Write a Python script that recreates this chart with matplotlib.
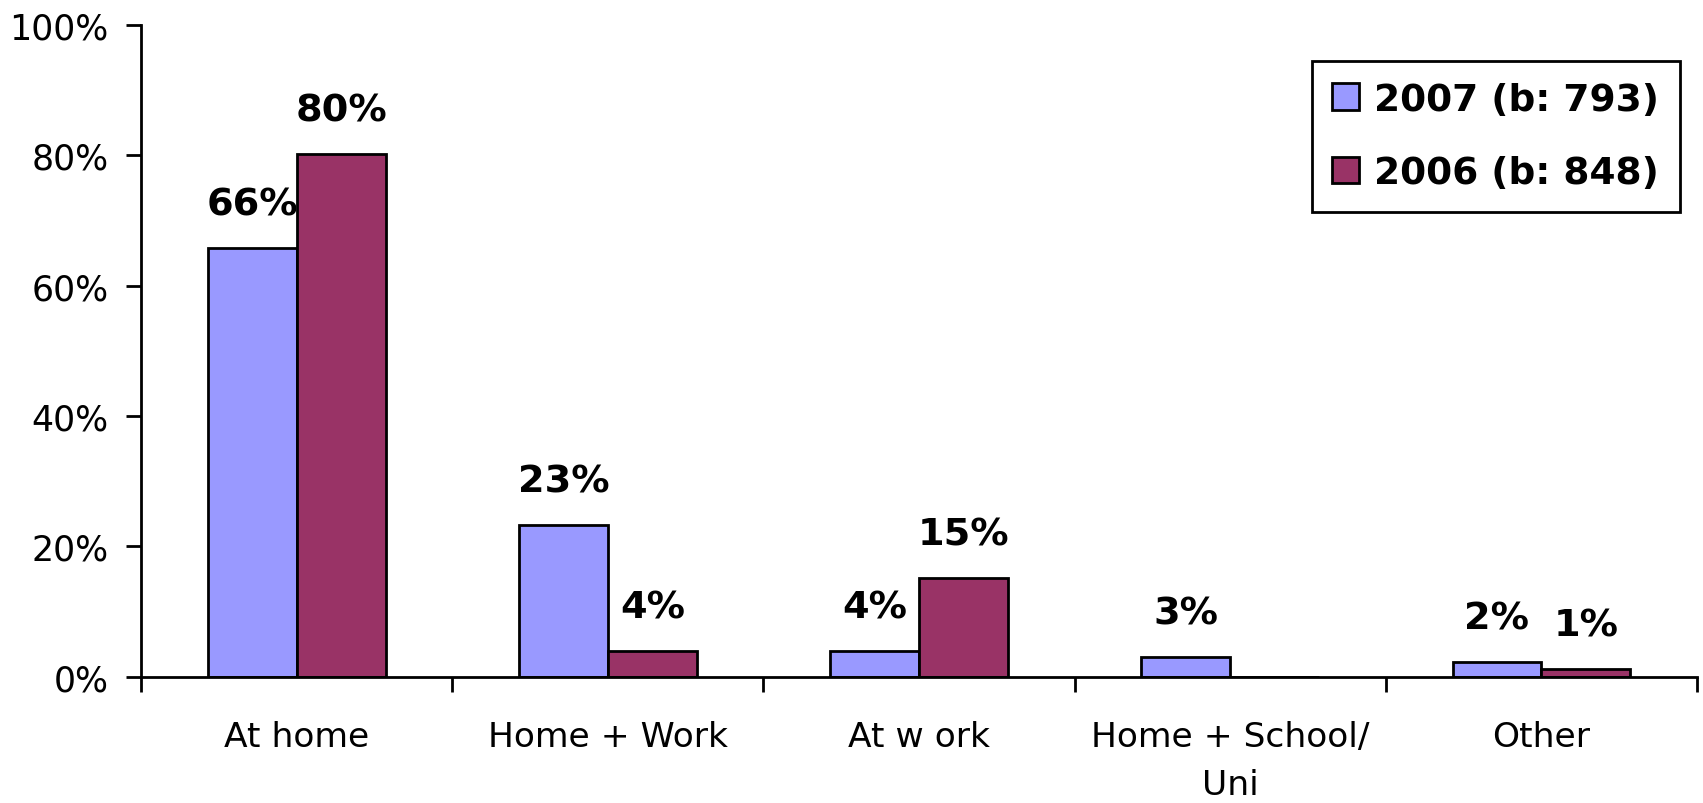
import numpy as np
import matplotlib.pyplot as plt

categories = ['At home', 'Home + Work', 'At w ork', 'Home + School/\nUni', 'Other']
vals_2007 = [65.8, 23.3, 4.0, 3.0, 2.3]
vals_2006 = [80.2, 4.0, 15.2, 0.0, 1.2]
labels_2007 = ['66%', '23%', '4%', '3%', '2%']
labels_2006 = ['80%', '4%', '15%', '', '1%']
series_names = ['2007 (b: 793)', '2006 (b: 848)']
yticks = [0, 20, 40, 60, 80, 100]

blue = '#9999FF'
red = '#993366'

fig = plt.figure(figsize=(17.03, 8.04), dpi=100)
ax = fig.add_axes([0.0828, 0.157, 0.9137, 0.811])

x = np.arange(len(categories))
w = 1 / 3.5

b1 = ax.bar(x - w / 2, vals_2007, w, color=blue, edgecolor='black', linewidth=2, label=series_names[0])
b2 = ax.bar(x + w / 2, vals_2006, w, color=red, edgecolor='black', linewidth=2, label=series_names[1])

# value labels above each bar
for bars, labs in [(b1, labels_2007), (b2, labels_2006)]:
    for rect, lab in zip(bars, labs):
        if not lab:
            continue
        ax.annotate(lab, (rect.get_x() + rect.get_width() / 2, rect.get_height()),
                    xytext=(0, 24), textcoords='offset points',
                    ha='center', va='baseline', fontsize=27.5, fontweight='bold')

ax.set_xlim(-0.5, len(categories) - 0.5)
ax.set_ylim(0, 100)
ax.set_yticks(yticks)
ax.set_yticklabels([f'{v}%' for v in yticks])
ax.set_xticks(np.arange(len(categories) + 1) - 0.5)
ax.set_xticklabels([])
ax.set_xticks(x, minor=True)
ax.set_xticklabels(categories, minor=True, fontsize=24.8, linespacing=1.6)
ax.tick_params(axis='x', which='minor', length=0, pad=31)
ax.tick_params(axis='x', which='major', length=11, width=2, direction='out')
ax.tick_params(axis='y', length=11, width=2, direction='out', labelsize=25, pad=12.5)

for s in ['top', 'right']:
    ax.spines[s].set_visible(False)
for s in ['left', 'bottom']:
    ax.spines[s].set_linewidth(2)

leg = ax.legend(loc='upper right', bbox_to_anchor=(0.9865, 0.9229), bbox_transform=fig.transFigure,
                borderaxespad=0, prop={'size': 27, 'weight': 'bold'}, handlelength=0.72,
                handleheight=0.72, handletextpad=0.4, labelspacing=1.0, borderpad=0.55,
                fancybox=False, edgecolor='black', framealpha=1)
leg.get_frame().set_linewidth(2)

fig.savefig('out.png', dpi=100)
